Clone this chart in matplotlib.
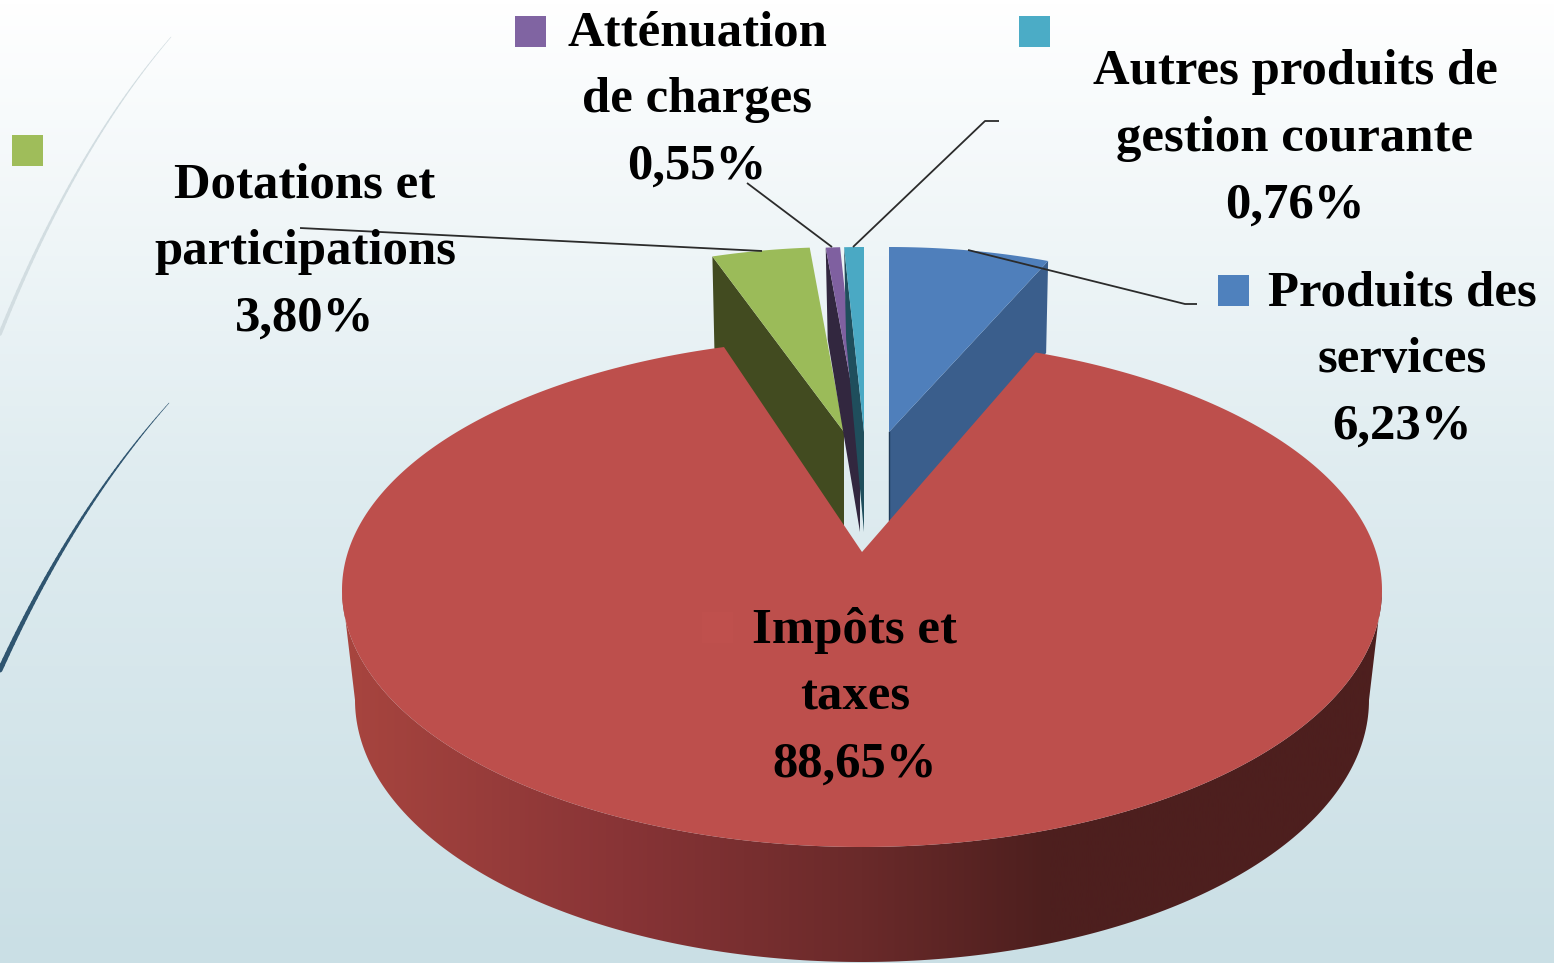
import numpy as np
import matplotlib
matplotlib.use('Agg')
import matplotlib.pyplot as plt
from matplotlib.collections import LineCollection
from matplotlib.colors import LinearSegmentedColormap
from matplotlib.patches import Polygon, Rectangle

# data, clockwise from the top of the pie
labels = ['Produits des\nservices', 'Impôts et\ntaxes', 'Dotations et\nparticipations',
          'Atténuation\nde charges', 'Autres produits de\ngestion courante']
values = [6.23, 88.65, 3.80, 0.55, 0.76]

# colours
face_colors = ['#4F7FBB', '#BD4F4C', '#9BBB59', '#7F60A0', '#4AA9C4']
wall_colors = ['#3A5E8C', '#883436', '#424B20', '#32273F', '#1F4E5C']
key_colors = ['#4F81BD', '#BF504D', '#9FBD5A', '#8064A2', '#4BACC6']

# layout in pixels of the picture
W, H = 1554, 963
main_cx, main_cy, main_a, main_b, main_b_back = 862, 590, 520, 257, 252
low_cx, low_cy, low_a, low_b = 862, 700, 507, 262
red_apex = (862, 552)
red_stretch = 1.0186
small_a, small_b, small_cy, depth = 417, 185, 432, 88
small_cx = {0: 889, 2: 844, 3: 860, 4: 864}
key_pos = [(1218, 275), (702, 612), (12, 135), (515, 16), (1019, 16)]
label_pos = [(1402, 360), (855, 697), (305, 252), (697, 100), (1295, 139)]
leaders = [[(1197, 304), (1185, 304), (968, 250)],
           [(300, 228), (762, 251)],
           [(747, 183), (832, 247)],
           [(999, 121), (985, 121), (853, 247)]]


def arc(cx, cy, a, b, t0, t1, n=200, b_back=None):
    t = np.radians(np.linspace(t0, t1, n))
    bs = np.where(np.cos(t) > 0, b if b_back is None else b_back, b)
    return np.column_stack([cx + a * np.sin(t), cy - bs * np.cos(t)])


def curve(ax, p0, c, p1, w0, w1, color):
    s = np.linspace(0, 1, 60)[:, None]
    pts = (1 - s) ** 2 * np.array(p0) + 2 * s * (1 - s) * np.array(c) + s ** 2 * np.array(p1)
    segs = np.stack([pts[:-1], pts[1:]], axis=1)
    ax.add_collection(LineCollection(segs, linewidths=np.linspace(w0, w1, 59), colors=color,
                                     capstyle='round'))


plt.rcParams['font.family'] = ['Liberation Serif', 'DejaVu Serif']
fig = plt.figure(figsize=(W / 100, H / 100), dpi=100)
ax = fig.add_axes([0, 0, 1, 1])

# background
bg = LinearSegmentedColormap.from_list('bg', ['#FFFFFF', '#DFECF0', '#CADFE5'])
ax.imshow(np.linspace(0, 1, 256)[:, None], cmap=bg, extent=(0, W, H, 0), aspect='auto', zorder=0)
ax.set_xlim(0, W)
ax.set_ylim(H, 0)
ax.axis('off')

# decorative curves on the left
curve(ax, (171, 37), (74, 150), (0, 334), 0.4, 2.6, '#D2DDE1')
curve(ax, (169, 403), (72, 512), (0, 670), 0.4, 3.6, '#2F5570')

# slice angles from the values
edges = np.concatenate([[0], np.cumsum(values)]) * 360 / sum(values)

# exploded slices at the back
for i in [2, 3, 4, 0]:
    t0, t1 = edges[i], edges[i + 1]
    cx = small_cx[i]
    top = arc(cx, small_cy, small_a, small_b, t0, t1)
    # the cut side that faces the viewer
    rim = top[-1] if i == 0 else top[0]
    wall = [(cx, small_cy), rim, (rim[0] - 2 if i == 0 else rim[0] + 2, rim[1] + depth + 4),
            (cx, small_cy + depth + 12)]
    ax.add_patch(Polygon(wall, fc=wall_colors[i], ec='none', zorder=2 + i * 0.1))
    ax.add_patch(Polygon(np.vstack([[(cx, small_cy)], top]), fc=face_colors[i], ec='none',
                         zorder=2.05 + i * 0.1))
ax.plot([small_cx[0]] * 2, [small_cy, small_cy + depth], color='#1F3B5A', lw=1, zorder=2.2)

# big slice: outer wall with a horizontal shade, then its top
wall_top = arc(main_cx, main_cy, main_a, main_b, 90, 270)
wall_low = arc(low_cx, low_cy, low_a, low_b, 270, 90)
red_wall = Polygon(np.vstack([wall_top, wall_low]), fc='none', ec='none', transform=ax.transData)
ax.add_patch(red_wall)
shade = LinearSegmentedColormap.from_list(
    'shade', [(0, '#A8453F'), (0.27, '#883436'), (0.5, '#6A2A2A'), (0.68, '#4D1F1E'), (1, '#4D1F1E')])
img = ax.imshow(np.linspace(0, 1, 512)[None, :], cmap=shade, extent=(342, 1382, H, 0),
                aspect='auto', zorder=3)
img.set_clip_path(red_wall)
ax.set_xlim(0, W)
ax.set_ylim(H, 0)

t0 = 180 + (edges[1] - 180) * red_stretch
t1 = 180 + (edges[2] - 180) * red_stretch
red_top = arc(main_cx, main_cy, main_a, main_b, t0, t1, 400, b_back=main_b_back)
ax.add_patch(Polygon(np.vstack([[red_apex], red_top]), fc=face_colors[1], ec='none', zorder=4))

# leader lines
for line in leaders:
    xs, ys = zip(*line)
    ax.plot(xs, ys, color='#2B2B2B', lw=1.3, zorder=5, solid_capstyle='butt')

# legend keys and labels
for i, (lab, val) in enumerate(zip(labels, values)):
    ax.add_patch(Rectangle(key_pos[i], 31, 31, fc=key_colors[i], ec='none', zorder=5))
    txt = lab + '\n' + f'{val:.2f}%'.replace('.', ',')
    ax.text(label_pos[i][0], label_pos[i][1], txt, ha='center', va='center', fontsize=36.5,
            fontweight='bold', color='black', linespacing=1.59, zorder=6)

fig.savefig('out.png', dpi=100)
